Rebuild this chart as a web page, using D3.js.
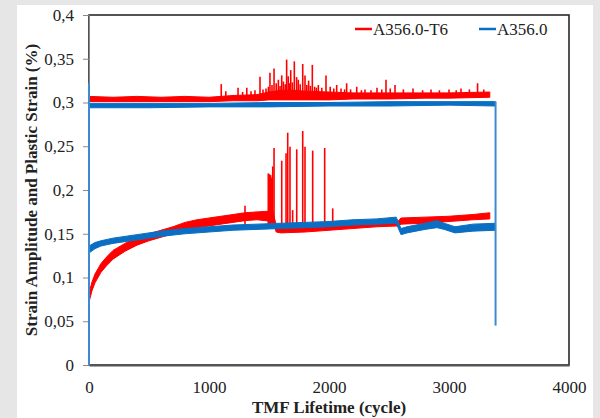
<!DOCTYPE html>
<html>
<head>
<meta charset="utf-8">
<script src="https://cdn.jsdelivr.net/npm/d3@7"></script>
<style>
  body { margin: 0; background: #e6e6e6; }
  text { font-family: "Liberation Serif", "DejaVu Serif", serif; fill: #222; }
</style>
</head>
<body>
<div id="chart"></div>
<script>
// tick values / labels
const xTicks = [0, 1000, 2000, 3000, 4000];
const yTicks = [0, 0.05, 0.1, 0.15, 0.2, 0.25, 0.3, 0.35, 0.4];
const yTickLabels = ["0", "0,05", "0,1", "0,15", "0,2", "0,25", "0,3", "0,35", "0,4"];
const seriesNames = ["A356.0-T6", "A356.0"];

// noisy curves read as bands: [cycle, low, high]
const redAmp = [
  [0, 0.301, 0.307], [200, 0.301, 0.306], [400, 0.301, 0.307], [600, 0.301, 0.306],
  [800, 0.301, 0.307], [1000, 0.301, 0.306], [1200, 0.302, 0.308], [1400, 0.302, 0.309],
  [1500, 0.303, 0.312], [1600, 0.303, 0.314], [1700, 0.303, 0.314], [1800, 0.303, 0.313],
  [2000, 0.303, 0.312], [2200, 0.304, 0.311], [2500, 0.304, 0.311], [2800, 0.305, 0.311],
  [3000, 0.305, 0.311], [3340, 0.306, 0.312]
];
const blueAmp = [
  [0, 0.294, 0.299], [500, 0.294, 0.299], [1000, 0.295, 0.299], [1500, 0.295, 0.300],
  [2000, 0.296, 0.300], [2500, 0.296, 0.301], [3000, 0.297, 0.301], [3388, 0.296, 0.301]
];
const redPlastic = [
  [0, 0.072, 0.082], [25, 0.085, 0.095], [50, 0.094, 0.104], [100, 0.106, 0.116],
  [150, 0.114, 0.124], [200, 0.121, 0.131], [300, 0.130, 0.139], [400, 0.137, 0.146],
  [500, 0.142, 0.150], [600, 0.146, 0.154], [700, 0.150, 0.158], [800, 0.154, 0.163],
  [900, 0.157, 0.166], [1000, 0.159, 0.168], [1100, 0.161, 0.170], [1200, 0.163, 0.172],
  [1300, 0.165, 0.174], [1400, 0.166, 0.175], [1530, 0.164, 0.176], [1560, 0.152, 0.160],
  [1600, 0.151, 0.158], [1800, 0.152, 0.159], [2000, 0.154, 0.160], [2200, 0.156, 0.162],
  [2400, 0.158, 0.164], [2580, 0.159, 0.165], [2600, 0.161, 0.168], [2800, 0.162, 0.169],
  [3000, 0.164, 0.170], [3200, 0.166, 0.172], [3340, 0.167, 0.174]
];
const bluePlastic = [
  [0, 0.128, 0.136], [50, 0.133, 0.140], [100, 0.136, 0.142], [200, 0.139, 0.145],
  [300, 0.141, 0.147], [400, 0.143, 0.149], [500, 0.145, 0.151], [600, 0.147, 0.153],
  [800, 0.150, 0.156], [1000, 0.152, 0.158], [1200, 0.154, 0.160], [1400, 0.155, 0.161],
  [1600, 0.156, 0.162], [1800, 0.157, 0.163], [2000, 0.158, 0.164], [2200, 0.160, 0.166],
  [2400, 0.161, 0.167], [2560, 0.162, 0.169], [2600, 0.149, 0.156], [2650, 0.151, 0.158],
  [2800, 0.155, 0.162], [2900, 0.157, 0.165], [2960, 0.155, 0.162], [3050, 0.151, 0.158],
  [3200, 0.153, 0.161], [3388, 0.154, 0.162]
];

// spikes: [cycle, peak]
const redAmpSpikes = [
  [1102, 0.321], [1140, 0.313], [1242, 0.317], [1280, 0.312], [1315, 0.317], [1350, 0.313],
  [1383, 0.314], [1425, 0.3295], [1450, 0.315], [1475, 0.316], [1495, 0.318], [1508, 0.334],
  [1525, 0.320], [1542, 0.339], [1560, 0.322], [1578, 0.326], [1592, 0.319], [1606, 0.331],
  [1620, 0.324], [1635, 0.321], [1647, 0.349], [1660, 0.330], [1670, 0.322], [1681, 0.337],
  [1695, 0.323], [1711, 0.347], [1730, 0.329], [1744, 0.326], [1760, 0.321], [1781, 0.344],
  [1800, 0.331], [1815, 0.320], [1830, 0.325], [1845, 0.319], [1861, 0.343], [1880, 0.318],
  [1895, 0.317], [1911, 0.320], [1940, 0.317], [1975, 0.331], [2010, 0.318], [2040, 0.316],
  [2064, 0.320], [2100, 0.316], [2130, 0.315], [2147, 0.322], [2180, 0.315], [2231, 0.318],
  [2270, 0.314], [2300, 0.315], [2350, 0.314], [2400, 0.317], [2440, 0.315], [2475, 0.326],
  [2510, 0.316], [2550, 0.320], [2620, 0.315], [2700, 0.316], [2780, 0.314], [2850, 0.315],
  [2920, 0.314], [3000, 0.315], [3060, 0.314], [3100, 0.316], [3170, 0.315], [3238, 0.322],
  [3290, 0.315]
];
const redPlasticSpikes = [
  [1300, 0.182], [1494, 0.219], [1504, 0.218], [1514, 0.217], [1522, 0.214], [1531, 0.227],
  [1542, 0.248], [1606, 0.2335], [1642, 0.242], [1656, 0.2655], [1675, 0.2495], [1697, 0.177],
  [1731, 0.2465], [1781, 0.2674], [1800, 0.2495], [1864, 0.245], [1964, 0.248], [2031, 0.179]
];
// vertical edges of the blue amplitude curve: [cycle, from, to]
const blueEdges = [[0, 0, 0.322], [3388, 0.045, 0.301]];

const red = "#ff0000", blue = "#0a6fc2";

const W = 600, H = 418;
const margin = { top: 15, right: 31, bottom: 53, left: 89 };
const width = W - margin.left - margin.right,
      height = H - margin.top - margin.bottom;

const svg = d3.select("#chart").append("svg")
  .attr("width", W).attr("height", H);

svg.append("rect").attr("width", W).attr("height", H).attr("fill", "#e6e6e6");
svg.append("rect").attr("x", 17).attr("y", 5).attr("width", 576).attr("height", H - 5).attr("fill", "#fff");

const g = svg.append("g").attr("transform", `translate(${margin.left},${margin.top})`);

const x = d3.scaleLinear().domain([0, 4000]).range([0, width]);
const y = d3.scaleLinear().domain([0, 0.4]).range([height, 0]);

// plot border
g.append("rect").attr("width", width).attr("height", height)
  .attr("fill", "none").attr("stroke", "#2a2a2a").attr("stroke-width", 1.6);

// y axis
const yAxis = g.append("g")
  .call(d3.axisLeft(y).tickValues(yTicks).tickSize(6).tickPadding(9)
    .tickFormat((d, i) => yTickLabels[i]));
yAxis.select(".domain").attr("stroke", "#888");
yAxis.selectAll(".tick line").attr("stroke", "#888");
yAxis.selectAll("text").attr("font-size", 17).attr("font-family", "Liberation Serif").attr("fill", "#222");

// x axis
const xAxis = g.append("g").attr("transform", `translate(0,${height})`)
  .call(d3.axisBottom(x).tickValues(xTicks).tickSize(0).tickPadding(16).tickFormat(d3.format("d")));
xAxis.select(".domain").attr("stroke", "#555").attr("stroke-width", 2);
xAxis.selectAll("text").attr("font-size", 17).attr("font-family", "Liberation Serif").attr("fill", "#222");

const band = d3.area().x(d => x(d[0])).y0(d => y(d[1])).y1(d => y(d[2]));

function drawBand(data, color) {
  g.append("path").datum(data).attr("d", band)
    .attr("fill", color).attr("stroke", color).attr("stroke-width", 1);
}
function drawSpikes(data, base, color, w) {
  g.selectAll(null).data(data).enter().append("line")
    .attr("x1", d => x(d[0])).attr("x2", d => x(d[0]))
    .attr("y1", y(base)).attr("y2", d => y(d[1]))
    .attr("stroke", color).attr("stroke-width", w);
}

drawBand(redAmp, red);
drawSpikes(redAmpSpikes, 0.306, red, 1.6);
drawBand(redPlastic, red);
drawSpikes(redPlasticSpikes, 0.158, red, 1.6);

drawBand(blueAmp, blue);
drawBand(bluePlastic, blue);
g.selectAll(null).data(blueEdges).enter().append("line")
  .attr("x1", d => x(d[0])).attr("x2", d => x(d[0]))
  .attr("y1", d => y(d[1])).attr("y2", d => y(d[2]))
  .attr("stroke", "#3d8ad0").attr("stroke-width", 2);

// legend
const legend = g.append("g");
const legendX = [266, 390];
seriesNames.forEach((name, i) => {
  const lg = legend.append("g").attr("transform", `translate(${legendX[i]},14)`);
  lg.append("line").attr("x1", 0).attr("x2", 17).attr("y1", 0).attr("y2", 0)
    .attr("stroke", i === 0 ? red : blue).attr("stroke-width", 2.5);
  lg.append("text").attr("x", 18).attr("y", 6).attr("font-size", 17).text(name);
});

// axis titles
svg.append("text")
  .attr("x", margin.left + width / 2).attr("y", 413)
  .attr("text-anchor", "middle").attr("font-size", 17).attr("font-weight", "bold")
  .text("TMF Lifetime (cycle)");
svg.append("text")
  .attr("transform", "translate(37,190) rotate(-90)")
  .attr("text-anchor", "middle").attr("font-size", 17).attr("font-weight", "bold")
  .text("Strain Amplitude and Plastic Strain (%)");
</script>
</body>
</html>
